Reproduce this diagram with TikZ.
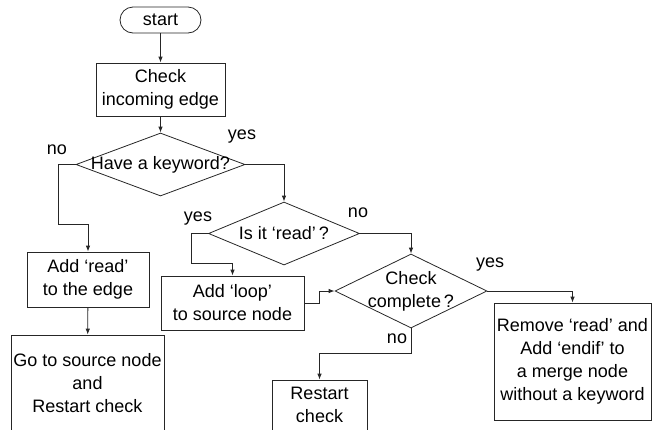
\documentclass[tikz,border=0pt]{standalone}
\usepackage{fontspec}
\setmainfont{Liberation Sans}
\usetikzlibrary{shapes.geometric,arrows.meta}
\begin{document}
\begin{tikzpicture}[x=1pt,y=-1pt,
  every node/.style={font=\fontsize{18}{23}\selectfont, text=black},
  ln/.style={draw=black!85, line width=0.8pt},
  arr/.style={ln, -{Latex[length=6pt,width=4.5pt]}},
  box/.style={ln, rectangle, align=center, inner sep=0pt},
  dia/.style={ln, diamond, inner sep=0pt},
  lbl/.style={inner sep=0pt}]
\useasboundingbox (0,0) rectangle (652,429);
\node[box, rounded corners=13pt, minimum width=81pt, minimum height=26pt] (start) at (160.5,20) {start};
\node[box, minimum width=129pt, minimum height=53pt] (check) at (160.5,89.5) {Check\\incoming edge};
\node[dia, minimum width=169pt, minimum height=63pt, label={center:Have a keyword?}] (kw) at (160.5,164.5) {};
\node[dia, minimum width=151pt, minimum height=63pt, label={center:Is it `read'\,?}] (isread) at (284,233.5) {};
\node[dia, minimum width=152pt, minimum height=74pt, label={[align=center]center:Check\\complete\,?}] (cc) at (411,291) {};
\node[box, minimum width=122pt, minimum height=55pt] (read) at (88,279.5) {Add `read'\\to the edge};
\node[box, minimum width=153pt, minimum height=96pt] (go) at (87.5,383) {Go to source node\\and\\Restart check};
\node[box, minimum width=143pt, minimum height=54pt] (loop) at (232.5,303) {Add `loop'\\to source node};
\node[box, minimum width=95pt, minimum height=50pt] (restart) at (319.5,405) {Restart\\check};
\node[box, minimum width=157pt, minimum height=117pt] (rm) at (572.5,361.5) {Remove `read' and\\Add `endif' to\\a merge node\\without a keyword};
\node[lbl] (no1) at (57,150) {no};
\node[lbl] (yes1) at (242,137) {yes};
\node[lbl] (yes2) at (198,219) {yes};
\node[lbl] (no2) at (358,213) {no};
\node[lbl] (yes3) at (490,265) {yes};
\node[lbl] (no3) at (397,339) {no};
\draw[arr] (start) -- (check);
\draw[arr] (check) -- (kw.north);
\draw[arr] (kw.west) -| (58,224) -| (read.north);
\draw[arr] (read) -- (go);
\draw[arr] (kw.east) -| (isread.north);
\draw[arr] (isread.west) -| (191,263) -| (loop.north);
\draw[arr] (loop.east) -- (319,303) |- (cc.west);
\draw[arr] (isread.east) -| (cc.north);
\draw[arr] (cc.east) -| (rm.north);
\draw[arr] (cc.south) -- ++(0,25) -| (restart.north);
\end{tikzpicture}
\end{document}
